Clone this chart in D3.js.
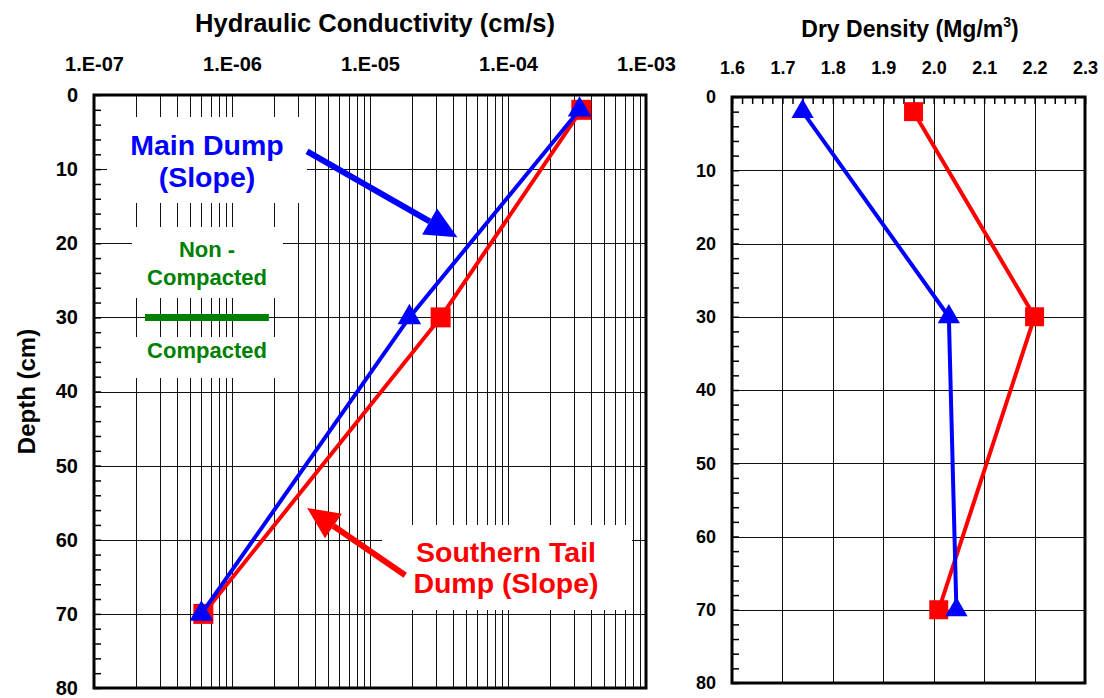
<!DOCTYPE html>
<html>
<head>
<meta charset="utf-8">
<script src="https://cdn.jsdelivr.net/npm/d3@7"></script>
<style>
  body { margin: 0; background: #fff; }
  svg text { font-family: "Liberation Sans", Arial, sans-serif; font-weight: bold; }
</style>
</head>
<body>
<svg id="chart" width="1104" height="698"></svg>
<script>
// data
let depths = [2, 30, 70];
let kMainDump = [3.3e-4, 1.93e-5, 6.0e-7];
let kSouthernTail = [3.4e-4, 3.25e-5, 6.2e-7];
let densityMainDump = [1.74, 2.03, 2.045];
let densitySouthernTail = [1.96, 2.20, 2.01];

let kTicks = [1e-7, 1e-6, 1e-5, 1e-4, 1e-3];
let kTickLabels = ['1.E-07', '1.E-06', '1.E-05', '1.E-04', '1.E-03'];
let densityTicks = [1.6, 1.7, 1.8, 1.9, 2.0, 2.1, 2.2, 2.3];
let densityTickLabels = ['1.6', '1.7', '1.8', '1.9', '2.0', '2.1', '2.2', '2.3'];
let depthTicks = [0, 10, 20, 30, 40, 50, 60, 70, 80];

let blue = '#0000ff';
let red = '#ff0000';
let green = '#008000';

let svg = d3.select('#chart');

// ---------- left panel: hydraulic conductivity ----------
let L = { left: 94, right: 646, top: 95, bottom: 688 };
let xK = d3.scaleLog().domain([1e-7, 1e-3]).range([L.left, L.right]);
let yL = d3.scaleLinear().domain([0, 80]).range([L.top, L.bottom]);

let left = svg.append('g');

// vertical log gridlines
left.append('g')
  .attr('transform', 'translate(0,' + L.bottom + ')')
  .call(d3.axisBottom(xK).tickValues(xK.ticks()).tickSize(-(L.bottom - L.top)).tickFormat(''))
  .call(g => g.select('.domain').remove())
  .call(g => g.selectAll('line').attr('stroke', '#111').attr('shape-rendering', 'crispEdges'));

// horizontal gridlines
left.append('g')
  .attr('transform', 'translate(' + L.left + ',0)')
  .call(d3.axisLeft(yL).tickValues(depthTicks).tickSize(-(L.right - L.left)).tickFormat(''))
  .call(g => g.select('.domain').remove())
  .call(g => g.selectAll('line').attr('stroke', '#111').attr('shape-rendering', 'crispEdges'));

// minor depth ticks
left.append('g')
  .attr('transform', 'translate(' + L.left + ',0)')
  .call(d3.axisLeft(yL).tickValues(d3.range(0, 81, 2)).tickSize(-7).tickFormat(''))
  .call(g => g.select('.domain').remove())
  .call(g => g.selectAll('line').attr('stroke', '#000').attr('stroke-width', 1.5));

// tick labels
left.append('g')
  .attr('transform', 'translate(0,' + L.top + ')')
  .call(d3.axisTop(xK).tickValues(kTicks).tickFormat((d, i) => kTickLabels[i]).tickSize(0).tickPadding(24))
  .call(g => g.select('.domain').remove())
  .call(g => g.selectAll('text').attr('font-size', 20).attr('fill', '#000'));

left.append('g')
  .attr('transform', 'translate(' + L.left + ',0)')
  .call(d3.axisLeft(yL).tickValues(depthTicks).tickSize(0).tickPadding(16))
  .call(g => g.select('.domain').remove())
  .call(g => g.selectAll('text').attr('font-size', 20).attr('fill', '#000'));

left.append('text')
  .attr('x', 375).attr('y', 32)
  .attr('text-anchor', 'middle').attr('font-size', 25.5)
  .text('Hydraulic Conductivity (cm/s)');

left.append('text')
  .attr('transform', 'translate(35,' + ((L.top + L.bottom) / 2) + ') rotate(-90)')
  .attr('text-anchor', 'middle').attr('font-size', 24)
  .text('Depth (cm)');

// white label boxes
let boxes = [
  { x: 107, y: 117, w: 200, h: 86 },
  { x: 132, y: 227, w: 151, h: 71 },
  { x: 132, y: 337, w: 151, h: 41 },
  { x: 382, y: 525, w: 250, h: 85 }
];
left.selectAll('rect.box')
  .data(boxes)
  .enter()
  .append('rect')
  .attr('class', 'box')
  .attr('x', d => d.x).attr('y', d => d.y)
  .attr('width', d => d.w).attr('height', d => d.h)
  .attr('fill', '#fff');

let labels = [
  { text: 'Main Dump', x: 207, y: 155, size: 28.5, color: blue },
  { text: '(Slope)', x: 207, y: 187, size: 28.5, color: blue },
  { text: 'Non -', x: 207, y: 257, size: 22, color: green },
  { text: 'Compacted', x: 207, y: 285, size: 22, color: green },
  { text: 'Compacted', x: 207, y: 358, size: 22, color: green },
  { text: 'Southern Tail', x: 506, y: 562, size: 28.5, color: red },
  { text: 'Dump (Slope)', x: 506, y: 593, size: 28.5, color: red }
];
left.selectAll('text.note')
  .data(labels)
  .enter()
  .append('text')
  .attr('class', 'note')
  .attr('x', d => d.x).attr('y', d => d.y)
  .attr('text-anchor', 'middle')
  .attr('font-size', d => d.size)
  .attr('fill', d => d.color)
  .text(d => d.text);

// compacted / non-compacted divider
left.append('line')
  .attr('x1', xK(2.34e-7)).attr('x2', xK(1.85e-6))
  .attr('y1', yL(30)).attr('y2', yL(30))
  .attr('stroke', green).attr('stroke-width', 7);

// arrows (in data units)
let arrows = [
  { from: [3.5e-6, 7.6], to: [4.3e-5, 19.2], color: blue },
  { from: [1.8e-5, 64.8], to: [3.5e-6, 55.7], color: red }
];
arrows.forEach(a => {
  let x1 = xK(a.from[0]), y1 = yL(a.from[1]);
  let x2 = xK(a.to[0]), y2 = yL(a.to[1]);
  let ang = Math.atan2(y2 - y1, x2 - x1);
  let headLen = 32, headHalf = 15;
  let bx = x2 - headLen * Math.cos(ang), by = y2 - headLen * Math.sin(ang);
  left.append('line')
    .attr('x1', x1).attr('y1', y1).attr('x2', bx).attr('y2', by)
    .attr('stroke', a.color).attr('stroke-width', 6);
  let px = -Math.sin(ang), py = Math.cos(ang);
  left.append('path')
    .attr('d', 'M' + x2 + ',' + y2 +
      'L' + (bx + headHalf * px) + ',' + (by + headHalf * py) +
      'L' + (bx - headHalf * px) + ',' + (by - headHalf * py) + 'Z')
    .attr('fill', a.color);
});

// series
let triangle = d3.symbol().type(d3.symbolTriangle);
let square = d3.symbol().type(d3.symbolSquare);

let drawSeries = (g, xs, xScale, yScale, color, shape, size) => {
  let pts = depths.map((d, i) => [xScale(xs[i]), yScale(d)]);
  g.append('path')
    .attr('d', d3.line()(pts))
    .attr('fill', 'none').attr('stroke', color).attr('stroke-width', 4);
  g.selectAll(null)
    .data(pts)
    .enter()
    .append('path')
    .attr('transform', p => 'translate(' + p[0] + ',' + p[1] + ')')
    .attr('d', shape.size(size))
    .attr('fill', color);
};

drawSeries(left, kSouthernTail, xK, yL, red, square, 400);
drawSeries(left, kMainDump, xK, yL, blue, triangle, 240);

left.append('rect')
  .attr('x', L.left).attr('y', L.top)
  .attr('width', L.right - L.left).attr('height', L.bottom - L.top)
  .attr('fill', 'none').attr('stroke', '#000').attr('stroke-width', 3);

// ---------- right panel: dry density ----------
let R = { left: 732, right: 1085, top: 97, bottom: 683 };
let xD = d3.scaleLinear().domain([1.6, 2.3]).range([R.left, R.right]);
let yR = d3.scaleLinear().domain([0, 80]).range([R.top, R.bottom]);

let right = svg.append('g');

right.append('g')
  .attr('transform', 'translate(0,' + R.bottom + ')')
  .call(d3.axisBottom(xD).tickValues(densityTicks).tickSize(-(R.bottom - R.top)).tickFormat(''))
  .call(g => g.select('.domain').remove())
  .call(g => g.selectAll('line').attr('stroke', '#111').attr('shape-rendering', 'crispEdges'));

right.append('g')
  .attr('transform', 'translate(' + R.left + ',0)')
  .call(d3.axisLeft(yR).tickValues(depthTicks).tickSize(-(R.right - R.left)).tickFormat(''))
  .call(g => g.select('.domain').remove())
  .call(g => g.selectAll('line').attr('stroke', '#111').attr('shape-rendering', 'crispEdges'));

right.append('g')
  .attr('transform', 'translate(' + R.left + ',0)')
  .call(d3.axisLeft(yR).tickValues(d3.range(0, 81, 2)).tickSize(-7).tickFormat(''))
  .call(g => g.select('.domain').remove())
  .call(g => g.selectAll('line').attr('stroke', '#000').attr('stroke-width', 1.5));

right.append('g')
  .attr('transform', 'translate(0,' + R.top + ')')
  .call(d3.axisTop(xD).tickValues(d3.range(0, 36).map(i => 1.6 + i * 0.02)).tickSize(-7).tickFormat(''))
  .call(g => g.select('.domain').remove())
  .call(g => g.selectAll('line').attr('stroke', '#000').attr('stroke-width', 1.5));

right.append('g')
  .attr('transform', 'translate(0,' + R.top + ')')
  .call(d3.axisTop(xD).tickValues(densityTicks).tickFormat((d, i) => densityTickLabels[i]).tickSize(0).tickPadding(23))
  .call(g => g.select('.domain').remove())
  .call(g => g.selectAll('text').attr('font-size', 18).attr('fill', '#000'));

right.append('g')
  .attr('transform', 'translate(' + R.left + ',0)')
  .call(d3.axisLeft(yR).tickValues(depthTicks).tickSize(0).tickPadding(16))
  .call(g => g.select('.domain').remove())
  .call(g => g.selectAll('text').attr('font-size', 18).attr('fill', '#000'));

let rTitle = right.append('text')
  .attr('x', 910).attr('y', 37)
  .attr('text-anchor', 'middle').attr('font-size', 23);
rTitle.append('tspan').text('Dry Density (Mg/m');
rTitle.append('tspan').attr('font-size', 14).attr('dy', -10).text('3');
rTitle.append('tspan').attr('dy', 10).text(')');

drawSeries(right, densitySouthernTail, xD, yR, red, square, 361);
drawSeries(right, densityMainDump, xD, yR, blue, triangle, 215);

right.append('rect')
  .attr('x', R.left).attr('y', R.top)
  .attr('width', R.right - R.left).attr('height', R.bottom - R.top)
  .attr('fill', 'none').attr('stroke', '#000').attr('stroke-width', 3);
</script>
</body>
</html>
